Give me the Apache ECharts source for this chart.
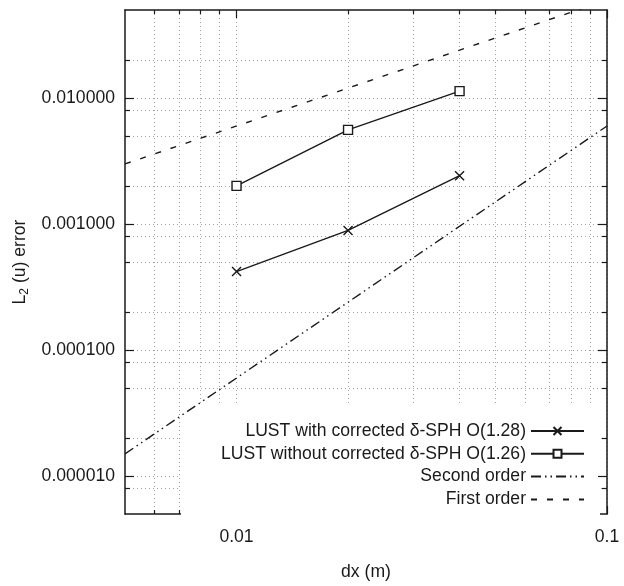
<!DOCTYPE html>
<html><head><meta charset="utf-8">
<script src="https://cdn.jsdelivr.net/npm/echarts@6/dist/echarts.min.js"></script>
<style>html,body{margin:0;padding:0;background:#fff}#c{width:624px;height:586px}</style>
</head><body><div id="c"></div>
<script>
// ---- data ----
const dx = [0.01, 0.02, 0.04];
const errCorrected = [0.00042, 0.00089, 0.00242];
const errUncorrected = [0.00201, 0.00559, 0.01136];
const secondOrderX = [0.005, 0.1];
const secondOrderY = [0.000015, 0.006];
const firstOrderX = [0.005, 0.1];
const firstOrderY = [0.003, 0.06];
const seriesNames = [
  'LUST with corrected δ-SPH O(1.28)',
  'LUST without corrected δ-SPH O(1.26)',
  'Second order',
  'First order'
];
const xMajorTicks = [0.01, 0.1];
const xMajorLabels = ['0.01', '0.1'];
const xMinorTicks = [0.006, 0.007, 0.008, 0.009, 0.02, 0.03, 0.04, 0.05, 0.06, 0.07, 0.08, 0.09];
const yMajorTicks = [0.00001, 0.0001, 0.001, 0.01];
const yMajorLabels = ['0.000010', '0.000100', '0.001000', '0.010000'];
const yMinorTicks = [0.000008, 0.00002, 0.00005, 0.00008, 0.0002, 0.0005, 0.0008, 0.002, 0.005, 0.008, 0.02];
const xRange = [0.005, 0.1];
const yRange = [0.000005, 0.05];

const FONT = '"Liberation Sans", Arial, sans-serif';
const FS = 17.6;
const INK = '#1a1a1a';
const gridLine = { show: true, lineStyle: { color: '#a0a0a0', type: [1, 3], width: 1 } };

function lookup(ticks, labels) {
  return function (v) {
    for (let i = 0; i < ticks.length; i++) {
      if (Math.abs(v - ticks[i]) / ticks[i] < 1e-6) return labels[i];
    }
    return '';
  };
}

function mkX(pos, ticks, len, labels, split, main) {
  const ax = {
    type: 'log', logBase: 10, min: xRange[0], max: xRange[1], position: pos,
    gridIndex: 0,
    axisLine: { show: !!main, onZero: false, lineStyle: { color: INK, width: 1.5 } },
    axisTick: { show: true, inside: true, length: len, customValues: ticks, lineStyle: { color: INK, width: 1.2 } },
    axisLabel: { show: false },
    splitLine: split ? gridLine : { show: false },
    minorTick: { show: false }, minorSplitLine: { show: false },
    z: split ? 0 : 6
  };
  if (labels) {
    ax.axisLabel = { show: true, customValues: ticks, formatter: lookup(ticks, labels),
      fontSize: FS, color: INK, fontFamily: FONT, margin: 14, showMinLabel: true, showMaxLabel: true };
    ax.name = 'dx (m)';
    ax.nameLocation = 'middle';
    ax.nameGap = 49;
    ax.nameTextStyle = { fontSize: FS, color: INK, fontFamily: FONT };
  }
  return ax;
}
function mkY(pos, ticks, len, labels, split, main) {
  const ax = {
    type: 'log', logBase: 10, min: yRange[0], max: yRange[1], position: pos,
    gridIndex: 0,
    axisLine: { show: !!main, onZero: false, lineStyle: { color: INK, width: 1.5 } },
    axisTick: { show: true, inside: true, length: len, customValues: ticks, lineStyle: { color: INK, width: 1.2 } },
    axisLabel: { show: false },
    splitLine: split ? gridLine : { show: false },
    minorTick: { show: false }, minorSplitLine: { show: false },
    z: split ? 0 : 6
  };
  if (labels) {
    ax.axisLabel = { show: true, customValues: ticks, formatter: lookup(ticks, labels),
      fontSize: FS, color: INK, fontFamily: FONT, margin: 10 };
    ax.name = '{a|L}{s|2}{a| (u) error}';
    ax.nameLocation = 'middle';
    ax.nameGap = 92;
    ax.nameRotate = 90;
    ax.nameTextStyle = { color: INK, fontFamily: FONT,
      rich: { a: { fontSize: FS, lineHeight: 22, color: INK, fontFamily: FONT },
              s: { fontSize: 12, lineHeight: 12, verticalAlign: 'bottom', color: INK, fontFamily: FONT } } };
  }
  return ax;
}

const pts = (xs, ys) => xs.map((x, i) => [x, ys[i]]);
const X_SYMBOL = 'path://M0,0L10,10M10,0L0,10';

const option = {
  animation: false,
  backgroundColor: '#fff',
  textStyle: { fontFamily: FONT },
  grid: { left: 125, right: 17, top: 10, bottom: 69, containLabel: false },
  xAxis: [
    mkX('bottom', xMajorTicks, 8, xMajorLabels, true, true),
    mkX('bottom', xMinorTicks, 4, null, true, false),
    mkX('top', xMajorTicks, 8, null, false, true),
    mkX('top', xMinorTicks, 4, null, false, false)
  ],
  yAxis: [
    mkY('left', yMajorTicks, 9, yMajorLabels, true, true),
    mkY('left', yMinorTicks, 5, null, true, false),
    mkY('right', yMajorTicks, 9, null, false, true),
    mkY('right', yMinorTicks, 5, null, false, false)
  ],
  legend: {
    orient: 'vertical',
    right: 24, top: 406,
    align: 'right',
    padding: [16, 15, 12, 40],
    backgroundColor: '#fff',
    itemWidth: 53, itemHeight: 10, itemGap: 4.8,
    z: 1,
    textStyle: { fontSize: FS, color: INK, fontFamily: FONT },
    data: [
      { name: seriesNames[0] },
      { name: seriesNames[1] },
      { name: seriesNames[2], itemStyle: { opacity: 0 } },
      { name: seriesNames[3], itemStyle: { opacity: 0 } }
    ]
  },
  series: [
    { name: seriesNames[0], type: 'line', xAxisIndex: 0, yAxisIndex: 0, z: 3,
      data: pts(dx, errCorrected), symbol: X_SYMBOL, symbolSize: 9, showAllSymbol: true,
      lineStyle: { color: INK, width: 1.4 },
      itemStyle: { color: 'rgba(0,0,0,0)', borderColor: INK, borderWidth: 1.4 } },
    { name: seriesNames[1], type: 'line', xAxisIndex: 0, yAxisIndex: 0, z: 3,
      data: pts(dx, errUncorrected), symbol: 'rect', symbolSize: 9,
      lineStyle: { color: INK, width: 1.4 },
      itemStyle: { color: '#fff', borderColor: INK, borderWidth: 1.4 } },
    { name: seriesNames[2], type: 'line', xAxisIndex: 0, yAxisIndex: 0, z: 3,
      data: pts(secondOrderX, secondOrderY), symbol: 'none',
      lineStyle: { color: INK, width: 1.4, type: [10, 4, 1.5, 4, 1.5, 4] },
      itemStyle: { color: INK } },
    { name: seriesNames[3], type: 'line', xAxisIndex: 0, yAxisIndex: 0, z: 3,
      data: pts(firstOrderX, firstOrderY), symbol: 'none',
      lineStyle: { color: INK, width: 1.4, type: [6, 10] },
      itemStyle: { color: INK } }
  ]
};
const chart = echarts.init(document.getElementById('c'), null, { renderer: 'canvas' });
chart.setOption(option);
</script>
</body></html>
